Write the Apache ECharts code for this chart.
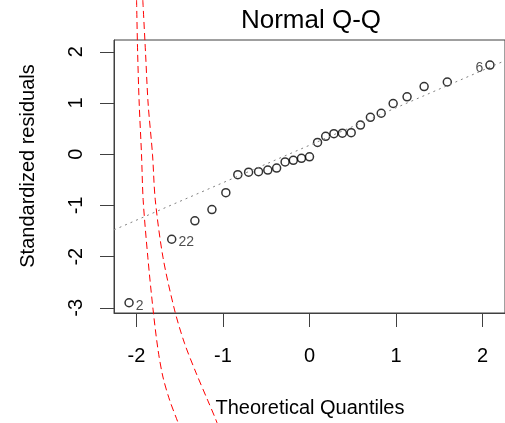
<!DOCTYPE html>
<html>
<head>
<meta charset="utf-8">
<script src="https://cdn.jsdelivr.net/npm/echarts@6/dist/echarts.min.js"></script>
<style>
html,body{margin:0;padding:0;background:#fff;}
#chart{width:505px;height:423px;}
</style>
</head>
<body>
<div id="chart"></div>
<script>
// Theoretical quantiles (x) and standardized residuals (y)
const theoQ = [-2.086,-1.593,-1.325,-1.128,-0.967,-0.829,-0.704,-0.589,-0.482,-0.380,-0.282,-0.187,-0.093,0,
               0.093,0.187,0.282,0.380,0.482,0.589,0.704,0.829,0.967,1.128,1.325,1.593,2.086];
const stdRes = [-2.90,-1.66,-1.30,-1.08,-0.75,-0.40,-0.35,-0.34,-0.31,-0.27,-0.15,-0.12,-0.08,-0.05,
                0.23,0.35,0.40,0.41,0.42,0.57,0.72,0.80,0.99,1.12,1.32,1.41,1.74];
// Labelled points
const labelIdx = [0, 1, 26];
const labelText = ['2', '22', '6'];
const labelSide = ['right', 'right', 'left'];
// Reference (qq) line end points
const refLineX = [-2.26, 2.26];
const refLineY = [-1.477, 1.827];
// Red dashed curves
const bandLeftX  = [-1.999,-1.987,-1.969,-1.942,-1.923,-1.869,-1.808,-1.751,-1.694,-1.617,-1.522,-1.445];
const bandLeftY  = [3.01,2.00,1.00,0.00,-0.89,-2.01,-3.04,-3.82,-4.35,-4.80,-5.23,-5.58];
const bandRightX = [-1.927,-1.896,-1.866,-1.815,-1.783,-1.694,-1.560,-1.445,-1.311,-1.178,-1.081,-0.998];
const bandRightY = [3.01,2.00,1.00,0.00,-0.89,-2.01,-3.04,-3.69,-4.27,-4.80,-5.19,-5.58];
// Tick values
const xTicks = [-2,-1,0,1,2];
const yTicks = [-3,-2,-1,0,1,2];

const FONT = '"Liberation Sans", Arial, sans-serif';
const axisCol = '#404040';

const pts = theoQ.map((x, i) => {
  const k = labelIdx.indexOf(i);
  const item = { value: [x, stdRes[i]] };
  if (k >= 0) {
    item.label = {
      show: true, formatter: labelText[k], position: labelSide[k], distance: 2,
      offset: [0, 3], fontSize: 14, color: '#222', fontFamily: FONT
    };
  }
  return item;
});

const chart = echarts.init(document.getElementById('chart'), null, {renderer: 'canvas'});
chart.setOption({
  animation: false,
  backgroundColor: '#fff',
  grid: { left: 114, top: 40, width: 394, height: 273, show: true,
          borderColor: axisCol, borderWidth: 1, backgroundColor: 'transparent' },
  xAxis: {
    type: 'value', min: -2.26, max: 2.26,
    axisLine: { show: true, onZero: false, lineStyle: { color: axisCol, width: 1 } },
    axisTick: { show: true, customValues: xTicks, length: 14, lineStyle: { color: axisCol, width: 1 } },
    axisLabel: { customValues: xTicks, fontSize: 20, margin: 33, color: '#000', fontFamily: FONT },
    splitLine: { show: false }
  },
  yAxis: {
    type: 'value', min: -3.10, max: 2.23,
    axisLine: { show: true, onZero: false, lineStyle: { color: axisCol, width: 1 } },
    axisTick: { show: true, customValues: yTicks, length: 14, lineStyle: { color: axisCol, width: 1 } },
    axisLabel: { customValues: yTicks, fontSize: 20, margin: 28, rotate: 90, color: '#000', fontFamily: FONT },
    splitLine: { show: false }
  },
  graphic: [
    { type: 'text', x: 311, y: 21, style: { text: 'Normal Q-Q', font: '26px ' + FONT, fill: '#000',
      textAlign: 'center', textVerticalAlign: 'middle' } },
    { type: 'text', x: 310, y: 408, style: { text: 'Theoretical Quantiles', font: '20px ' + FONT, fill: '#000',
      textAlign: 'center', textVerticalAlign: 'middle' } },
    { type: 'text', x: 28, y: 166, rotation: Math.PI / 2, style: { text: 'Standardized residuals', font: '20px ' + FONT, fill: '#000',
      textAlign: 'center', textVerticalAlign: 'middle' } }
  ],
  series: [
    {
      type: 'scatter', data: pts, symbol: 'circle', symbolSize: 8,
      itemStyle: { color: 'rgba(0,0,0,0)', borderColor: '#000', borderWidth: 1.5 },
      z: 3
    },
    {
      type: 'line', data: refLineX.map((x, i) => [x, refLineY[i]]), showSymbol: false,
      lineStyle: { color: '#808080', width: 1, type: [2, 4] }, z: 4, silent: true
    },
    {
      type: 'line', data: bandLeftX.map((x, i) => [x, bandLeftY[i]]), showSymbol: false, smooth: 0.3,
      clip: false, lineStyle: { color: '#ff0000', width: 1, type: [7, 4] }, z: 5, silent: true
    },
    {
      type: 'line', data: bandRightX.map((x, i) => [x, bandRightY[i]]), showSymbol: false, smooth: 0.3,
      clip: false, lineStyle: { color: '#ff0000', width: 1, type: [7, 4] }, z: 5, silent: true
    }
  ]
});
</script>
</body>
</html>
